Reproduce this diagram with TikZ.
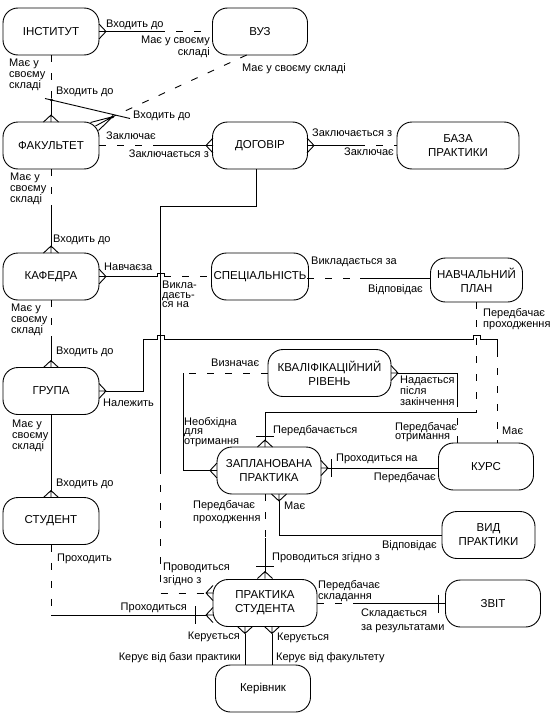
\documentclass[tikz,border=0pt]{standalone}
\usepackage{fontspec}
\setmainfont{Liberation Sans}
\usetikzlibrary{positioning}

\tikzset{
  ent/.style={draw, rounded corners=15pt, line width=0.9pt, minimum width=95pt,
    minimum height=47pt, align=center, inner sep=2pt,
    font=\fontsize{11.5}{14}\selectfont},
  rel/.style={line width=0.9pt},
  opt/.style={rel, dash pattern=on 7pt off 11pt},
  lblw/.style={anchor=north west, inner sep=0pt, align=left, font=\fontsize{11}{11}\selectfont},
  lble/.style={anchor=north east, inner sep=0pt, align=right, font=\fontsize{11}{11}\selectfont},
  crowfoot/.pic={\draw[rel] (0,0) -- (-7,-7.5) (0,0) -- (-7,0) (0,0) -- (-7,7.5);},
  onebar/.pic={\draw[rel] (0,-9) -- (0,9);},
}

\begin{document}
\begin{tikzpicture}[x=1pt, y=-1pt]
  \useasboundingbox (0,0) rectangle (556,717);

  % entities
  \node[ent, minimum width=96pt] (inst) at (51,31.5) {ІНСТИТУТ};
  \node[ent] (vuz) at (260,31.5) {ВУЗ};
  \node[ent, minimum width=96pt] (fak) at (51,145.5) {ФАКУЛЬТЕТ};
  \node[ent] (dog) at (260,145.5) {ДОГОВІР};
  \node[ent, minimum width=122pt] (baza) at (458,145.5) {БАЗА\\ПРАКТИКИ};
  \node[ent, minimum width=96pt] (kaf) at (51,276.5) {КАФЕДРА};
  \node[ent] (spec) at (260,276.5) {СПЕЦІАЛЬНІСТЬ};
  \node[ent, minimum width=92pt, minimum height=44pt] (plan) at (476.5,280) {НАВЧАЛЬНИЙ\\ПЛАН};
  \node[ent, minimum width=96pt] (grupa) at (51,391) {ГРУПА};
  \node[ent, minimum width=96pt] (stud) at (51,521) {СТУДЕНТ};
  \node[ent, minimum width=123pt] (kval) at (329.5,373) {КВАЛІФІКАЦІЙНИЙ\\РІВЕНЬ};
  \node[ent, minimum width=104pt] (zapl) at (269,470.5) {ЗАПЛАНОВАНА\\ПРАКТИКА};
  \node[ent] (kurs) at (486,466.5) {КУРС};
  \node[ent, minimum width=93pt] (vyd) at (488.5,535) {ВИД\\ПРАКТИКИ};
  \node[ent, minimum width=104pt] (prst) at (265,603) {ПРАКТИКА\\СТУДЕНТА};
  \node[ent] (zvit) at (493,603.5) {ЗВІТ};
  \node[ent] (ker) at (263,688.5) {Керівник};

  % інститут - вуз
  \coordinate (ivA) at (106,31.5);
  \coordinate (ivM) at (158,31.5);
  \draw[rel] (ivA) -- (ivM);
  \draw[opt] (ivM) -- (vuz.west);
  \pic at (ivA) {crowfoot};
  \node[lblw] (tIV1) at (106,20) {Входить до};
  \node[lble, font=\fontsize{11}{10}\selectfont] (tIV2) at (210,36) {Має у своєму\\складі};

  % інститут - факультет
  \coordinate (ifM) at (51,99);
  \coordinate (ifA) at (51,115);
  \draw[opt] (inst.south) -- (ifM);
  \draw[rel] (ifM) -- (ifA);
  \pic[rotate=90] at (ifA) {crowfoot};
  \node[lblw] (tIF1) at (9,59) {Має у\\своєму\\складі};
  \node[lblw] (tIF2) at (56,87) {Входить до};

  % вуз - факультет
  \coordinate (vfS) at (246.7,55);
  \coordinate (vfA) at (112.7,116.7);
  \draw[opt] (vfS) -- (vfA);
  \draw[rel] (vfA) -- (90.5,122.5) (vfA) -- (95.5,126) (vfA) -- (98.5,130.5);
  \node[lblw] (tVF1) at (242,63) {Має у своєму складі};
  \node[lblw] (tVF2) at (133,111) {Входить до};
  % exclusive arc
  \coordinate (exA) at (45,98.5);
  \coordinate (exB) at (130,118.5);
  \draw[rel] (exA) -- (exB);
  \fill (51.5,100) circle[radius=1.6pt];
  \fill (vfA) circle[radius=1.6pt];

  % факультет - договір
  \coordinate (fdM) at (158,145.5);
  \coordinate (fdA) at (206,145.5);
  \draw[opt] (fak.east) -- (fdM);
  \draw[rel] (fdM) -- (fdA);
  \pic[rotate=180] at (fdA) {crowfoot};
  \node[lblw] (tFD1) at (106,132) {Заключає};
  \node[lble] (tFD2) at (209,150) {Заключається з};

  % договір - база практики
  \coordinate (dbA) at (314,145.5);
  \coordinate (dbM) at (358,145.5);
  \draw[rel] (dbA) -- (dbM);
  \draw[opt] (dbM) -- (baza.west);
  \pic at (dbA) {crowfoot};
  \node[lblw] (tDB1) at (312,129) {Заключається з};
  \node[lble] (tDB2) at (394,148) {Заключає};

  % факультет - кафедра
  \coordinate (fkM) at (51,207);
  \coordinate (fkA) at (51,246);
  \draw[opt] (fak.south) -- (fkM);
  \draw[rel] (fkM) -- (fkA);
  \pic[rotate=90] at (fkA) {crowfoot};
  \node[lblw] (tFK1) at (10,173) {Має у\\своєму\\складі};
  \node[lblw] (tFK2) at (53,235) {Входить до};

  % кафедра - спеціальність
  \coordinate (ksA) at (106,276.5);
  \coordinate (ksM) at (164,276.5);
  \draw[rel] (ksA) -- (157.5,276.5) -- (157.5,273) -- (164,273) -- (ksM);
  \draw[opt] (ksM) -- (spec.west);
  \pic at (ksA) {crowfoot};
  \node[lblw] (tKS1) at (104,263) {Навчаєза};
  \node[lblw, font=\fontsize{11}{9.5}\selectfont] (tKS2) at (162,281) {Викла-\\даєть-\\ся на};

  % спеціальність - навчальний план
  \coordinate (spS) at (307,278);
  \coordinate (spM) at (360,278);
  \draw[opt] (spS) -- (spM);
  \draw[rel] (spM) -- (plan.west |- spM);
  \node[lblw] (tSP1) at (311,257) {Викладається за};
  \node[lble] (tSP2) at (423,284) {Відповідає};

  % кафедра - група
  \coordinate (kgM) at (51,340);
  \coordinate (kgA) at (51,360.5);
  \draw[opt] (kaf.south) -- (kgM);
  \draw[rel] (kgM) -- (kgA);
  \pic[rotate=90] at (kgA) {crowfoot};
  \node[lblw] (tKG1) at (11,304) {Має у\\своєму\\складі};
  \node[lblw] (tKG2) at (56,347) {Входить до};

  % група - студент
  \coordinate (gsA) at (51,490.5);
  \draw[rel] (grupa.south) -- (gsA);
  \pic[rotate=90] at (gsA) {crowfoot};
  \node[lblw] (tGS1) at (12,420) {Має у\\своєму\\складі};
  \node[lblw] (tGS2) at (56,479) {Входить до};

  % група - курс
  \coordinate (gkA) at (106,391);
  \coordinate (gkM) at (497,350);
  \draw[rel] (gkA) -- (143.3,391) -- (143.3,339) -- (157.5,339) -- (157.5,335.5)
    -- (164,335.5) -- (164,339) -- (473.5,339) -- (473.5,335.5) -- (480,335.5)
    -- (480,339) -- (497,339) -- (gkM);
  \draw[opt] (gkM) -- (kurs.north -| gkM);
  \pic at (gkA) {crowfoot};
  \node[lblw] (tGK1) at (103,399) {Належить};
  \node[lblw] (tGK2) at (502,427) {Має};

  % навчальний план - запланована практика
  \coordinate (pzM) at (476.5,412);
  \coordinate (pzA) at (265,440);
  \draw[opt] (plan.south) -- (pzM);
  \draw[rel] (pzM) -- (265,412) -- (pzA);
  \pic[rotate=90] at (265,436) {onebar};
  \pic[rotate=90] at (pzA) {crowfoot};
  \node[lblw] (tPZ1) at (483,308) {Передбачає\\проходження};
  \node[lblw] (tPZ2) at (273,425) {Передбачається};

  % кваліфікаційний рівень - запланована практика
  \coordinate (kzM) at (183,373);
  \coordinate (kzA) at (210,470.5);
  \draw[opt] (kval.west) -- (kzM);
  \draw[rel] (kzM) -- (183,470.5) -- (kzA);
  \pic[rotate=180] at (kzA) {crowfoot};
  \node[lblw] (tKZ1) at (211,359) {Визначає};
  \node[lblw, font=\fontsize{11}{9.5}\selectfont] (tKZ2) at (184,417) {Необхідна\\для\\отримання};

  % кваліфікаційний рівень - курс
  \coordinate (kkA) at (398,373);
  \coordinate (kkM) at (457,400);
  \draw[rel] (kkA) -- (457,373) -- (kkM);
  \draw[opt] (kkM) -- (kurs.north -| kkM);
  \pic at (kkA) {crowfoot};
  \node[lblw] (tKK1) at (400,376) {Надається\\після\\закінчення};
  \node[lblw, font=\fontsize{11}{9.5}\selectfont] (tKK2) at (395,422) {Передбачає\\отримання};

  % запланована практика - курс
  \coordinate (zkA) at (328,468);
  \draw[rel] (zkA) -- (kurs.west |- zkA);
  \pic at (zkA) {crowfoot};
  \pic at (331.5,468) {onebar};
  \node[lblw] (tZK1) at (336,454) {Проходиться на};
  \node[lble] (tZK2) at (436,472) {Передбачає};

  % запланована практика - вид практики
  \coordinate (zvA) at (279,501);
  \draw[rel] (zvA) -- (279,535) -- (vyd.west);
  \pic[rotate=-90] at (zvA) {crowfoot};
  \node[lblw] (tZV1) at (284,502) {Має};
  \node[lble] (tZV2) at (437,540) {Відповідає};

  % запланована практика - практика студента
  \coordinate (zpS) at (265,494);
  \coordinate (zpM) at (265,538);
  \coordinate (zpA) at (265,571.5);
  \draw[opt] (zpS) -- (zpM);
  \draw[rel] (zpM) -- (zpA);
  \pic[rotate=90] at (265,566) {onebar};
  \pic[rotate=90] at (zpA) {crowfoot};
  \node[lblw, font=\fontsize{11}{13.3}\selectfont] (tZP1) at (193,500) {Передбачає\\проходження};
  \node[lblw] (tZP2) at (272,552) {Проводиться згідно з};

  % студент - практика студента
  \coordinate (spsM) at (51,615);
  \coordinate (spsA) at (206,615);
  \draw[opt] (stud.south) -- (spsM);
  \draw[rel] (spsM) -- (spsA);
  \pic at (195,615) {onebar};
  \pic[rotate=180] at (spsA) {crowfoot};
  \node[lblw] (tSS1) at (57,554) {Проходить};
  \node[lble] (tSS2) at (187,603) {Проходиться};

  % договір - практика студента
  \coordinate (dpS) at (256.7,169);
  \coordinate (dpM) at (160.7,467);
  \coordinate (dpA) at (206,593);
  \draw[rel] (dpS) -- (256.7,206) -- (160.7,206) -- (dpM);
  \draw[opt] (dpM) -- (160.7,593) -- (dpA);
  \pic[rotate=180] at (dpA) {crowfoot};
  \node[lblw, font=\fontsize{11}{13}\selectfont] (tDP1) at (163,563) {Проводиться\\згідно з};

  % практика студента - звіт
  \coordinate (pzvS) at (317,603.5);
  \coordinate (pzvM) at (360,603.5);
  \draw[opt] (pzvS) -- (pzvM);
  \draw[rel] (pzvM) -- (zvit.west);
  \pic at (438,603.5) {onebar};
  \node[lblw] (tPV1) at (318,580) {Передбачає\\складання};
  \node[lblw, font=\fontsize{11}{13.3}\selectfont] (tPV2) at (361,609) {Складається\\за результатами};

  % практика студента - керівник
  \coordinate (pk1) at (245,633.5);
  \coordinate (pk2) at (272,633.5);
  \draw[rel] (pk1) -- (ker.north -| pk1);
  \draw[rel] (pk2) -- (ker.north -| pk2);
  \pic[rotate=-90] at (pk1) {crowfoot};
  \pic[rotate=-90] at (pk2) {crowfoot};
  \node[lble] (tPK1) at (240,632) {Керується};
  \node[lble] (tPK2) at (241,652) {Керує від бази практики};
  \node[lblw] (tPK3) at (277,633) {Керується};
  \node[lblw] (tPK4) at (276,652) {Керує від факультету};
\end{tikzpicture}
\end{document}
